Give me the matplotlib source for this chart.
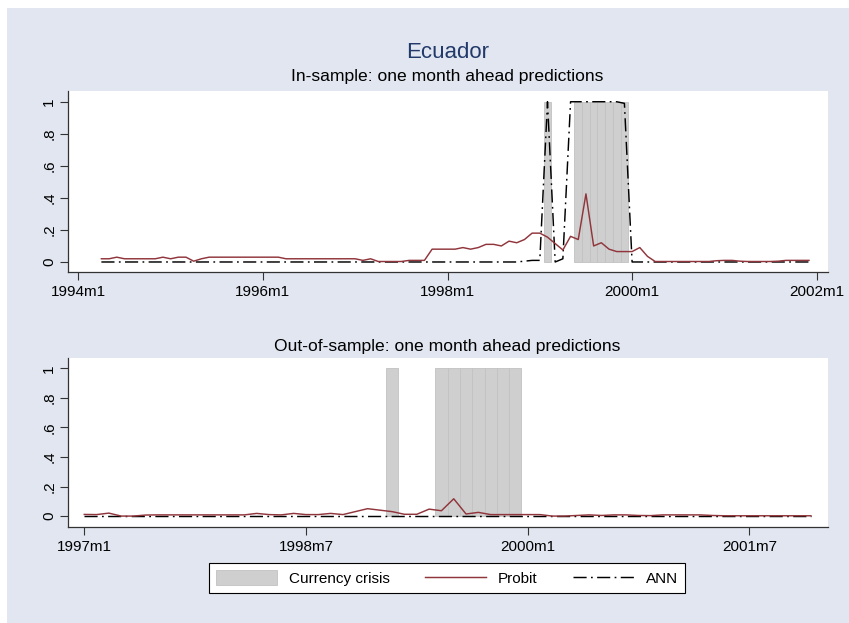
import matplotlib
matplotlib.use("Agg")
import matplotlib.pyplot as plt
import numpy as np
from matplotlib.patches import Rectangle

plt.rcParams['font.family'] = ['Liberation Sans', 'DejaVu Sans']


def mnum(s):
    """Monthly date string like '1999m2' -> running month number."""
    y, m = s.split('m')
    return int(y) * 12 + int(m) - 1


# ---------------------------------------------------------------- data
country = "Ecuador"
crisis_months = ["1999m2", "1999m6", "1999m7", "1999m8", "1999m9",
                 "1999m10", "1999m11", "1999m12"]

insample_start = "1994m4"
insample_probit = [
    .02, .02, .03, .02, .02, .02, .02, .02, .03, .02, .03, .03, .005, .02,
    .03, .03, .03, .03, .03, .03, .03, .03, .03, .03,
    .02, .02, .02, .02, .02, .02, .02, .02, .02, .02,
    .01, .02, .003, .003, .003, .003, .01, .01, .01,
    .08, .08, .08, .08, .09, .08, .09, .11, .11, .10, .13, .12, .14, .18, .18,
    .155, .115, .075, .16, .14, .425, .10, .12, .08, .065, .065, .065, .09,
    .035, .003,
    .003, .003, .003, .003, .003, .003, .003, .008, .01, .01, .005,
    .003, .003, .003, .003, .005, .01, .01, .01, .01,
]
insample_ann = [
    0, 0, 0, 0, 0, 0, 0, 0, 0, 0, 0, 0, 0, 0,
    0, 0, 0, 0, 0, 0, 0, 0, 0, 0,
    0, 0, 0, 0, 0, 0, 0, 0, 0, 0,
    0, 0, 0, 0, 0, 0, 0, 0, 0,
    0, 0, 0, 0, 0, 0, 0, 0, 0, 0, 0, 0, .005, .01, .01,
    1.0, 0.0, .02, 1.0, 1.0, 1.0, 1.0, 1.0, 1.0, 1.0, .99, 0, 0,
    0, 0,
    0, 0, 0, 0, 0, 0, 0, 0, 0, 0, 0,
    0, 0, 0, 0, 0, 0, 0, 0, 0,
]

outsample_start = "1997m1"
outsample_probit = [
    .011, .01, .02, .0, .0, .007, .008, .008, .008, .008, .008, .008,
    .008, .008, .018, .01, .008, .018, .01, .01, .018, .01, .03, .05,
    .04, .03, .012, .012, .047, .036, .117, .014, .025, .01, .01, .01,
    .01, .01, .0, .0, .004, .008, .004, .008, .008, .004, .003, .008,
    .008, .008, .008, .004, .002, .002, .002, .002, .002, .002, .002, .002,
]
outsample_ann = [
    0, 0, 0, 0, 0, 0, 0, 0, 0, 0, 0, 0,
    0, 0, 0, 0, 0, 0, 0, 0, 0, 0, 0, 0,
    0, 0, 0, 0, 0, 0, 0, 0, 0, 0, 0, 0,
    0, 0, 0, 0, 0, 0, 0, 0, 0, 0, 0, 0,
    0, 0, 0, 0, 0, 0, 0, 0, 0, 0, 0, 0,
]

insample_ticks = ["1994m1", "1996m1", "1998m1", "2000m1", "2002m1"]
outsample_ticks = ["1997m1", "1998m7", "2000m1", "2001m7"]
y_ticks = [0, .2, .4, .6, .8, 1]
y_ticklabels = ["0", ".2", ".4", ".6", ".8", "1"]

panel_titles = ["In-sample: one month ahead predictions",
                "Out-of-sample: one month ahead predictions"]
legend_labels = ["Currency crisis", "Probit", "ANN"]

# ---------------------------------------------------------------- style
BG = "#E1E6F0"
BAR_FILL = "#CFCFCF"
BAR_EDGE = "#C2C2C2"
PROBIT_C = "#90353B"
AXIS_C = "#333333"
W, H = 849, 623

fig = plt.figure(figsize=(W / 100, H / 100), dpi=100, facecolor="white")
fig.patches.append(Rectangle((7 / W, 0), 1 - 7 / W, 1 - 8 / H,
                             transform=fig.transFigure, facecolor=BG,
                             edgecolor="none", zorder=-10))


def px_axes(left, top, right, bottom):
    return fig.add_axes([left / W, 1 - bottom / H,
                         (right - left) / W, (bottom - top) / H])


ax_top = px_axes(68, 91, 828, 272)
ax_bot = px_axes(68, 358, 828, 527)

panels = [
    (ax_top, insample_start, insample_probit, insample_ann, insample_ticks,
     "1994m1", (-1.34, 97.47), (-0.0625, 1.067)),
    (ax_bot, outsample_start, outsample_probit, outsample_ann, outsample_ticks,
     "1997m1", (-1.32, 60.39), (-0.074, 1.07)),
]

crisis_x = [mnum(c) for c in crisis_months]
handles = None
for ax, start, probit, ann, ticks, origin, xl, yl in panels:
    x = mnum(start) + np.arange(len(probit))
    bars = ax.bar(crisis_x, [1.0] * len(crisis_x), width=1.0, bottom=0,
                  color=BAR_FILL, edgecolor=BAR_EDGE, linewidth=0.6, zorder=1)
    lp, = ax.plot(x, probit, color=PROBIT_C, lw=1.05, zorder=3)
    la, = ax.plot(x, ann, color="black", lw=1.05, zorder=2,
                  linestyle=(0, (9, 3, 1.2, 3)))
    handles = [bars, lp, la]

    o = mnum(origin)
    ax.set_xlim(o + xl[0], o + xl[1])
    ax.set_ylim(*yl)
    ax.set_xticks([mnum(t) for t in ticks])
    ax.set_xticklabels(ticks)
    ax.set_yticks(y_ticks)
    ax.set_yticklabels(y_ticklabels, rotation=90, va="center")
    ax.set_facecolor("white")
    for s in ("top", "right"):
        ax.spines[s].set_visible(False)
    for s in ("left", "bottom"):
        ax.spines[s].set_color(AXIS_C)
        ax.spines[s].set_linewidth(0.9)
    ax.tick_params(axis="both", direction="out", length=5.5, width=0.8,
                   color=AXIS_C, labelsize=11, labelcolor="black")
    ax.tick_params(axis="x", pad=4)
    ax.tick_params(axis="y", pad=3)

fig.text(448 / W, 1 - 52 / H, country, ha="center", va="center",
         fontsize=16, color="#223A6A")
fig.text(447 / W, 1 - 76 / H, panel_titles[0], ha="center", va="center",
         fontsize=12.6, color="black")
fig.text(447 / W, 1 - 347 / H, panel_titles[1], ha="center", va="center",
         fontsize=12.6, color="black")

leg = fig.legend(handles, legend_labels, ncol=3, loc="center",
                 bbox_to_anchor=(447 / W, 1 - 578 / H), frameon=True,
                 fancybox=False, edgecolor="black", framealpha=1,
                 fontsize=11, handlelength=4.0, handleheight=1.05,
                 handletextpad=0.8, columnspacing=2.3, borderpad=0.45)
leg.get_frame().set_linewidth(0.8)

fig.savefig("out.png", dpi=100, facecolor="white")
